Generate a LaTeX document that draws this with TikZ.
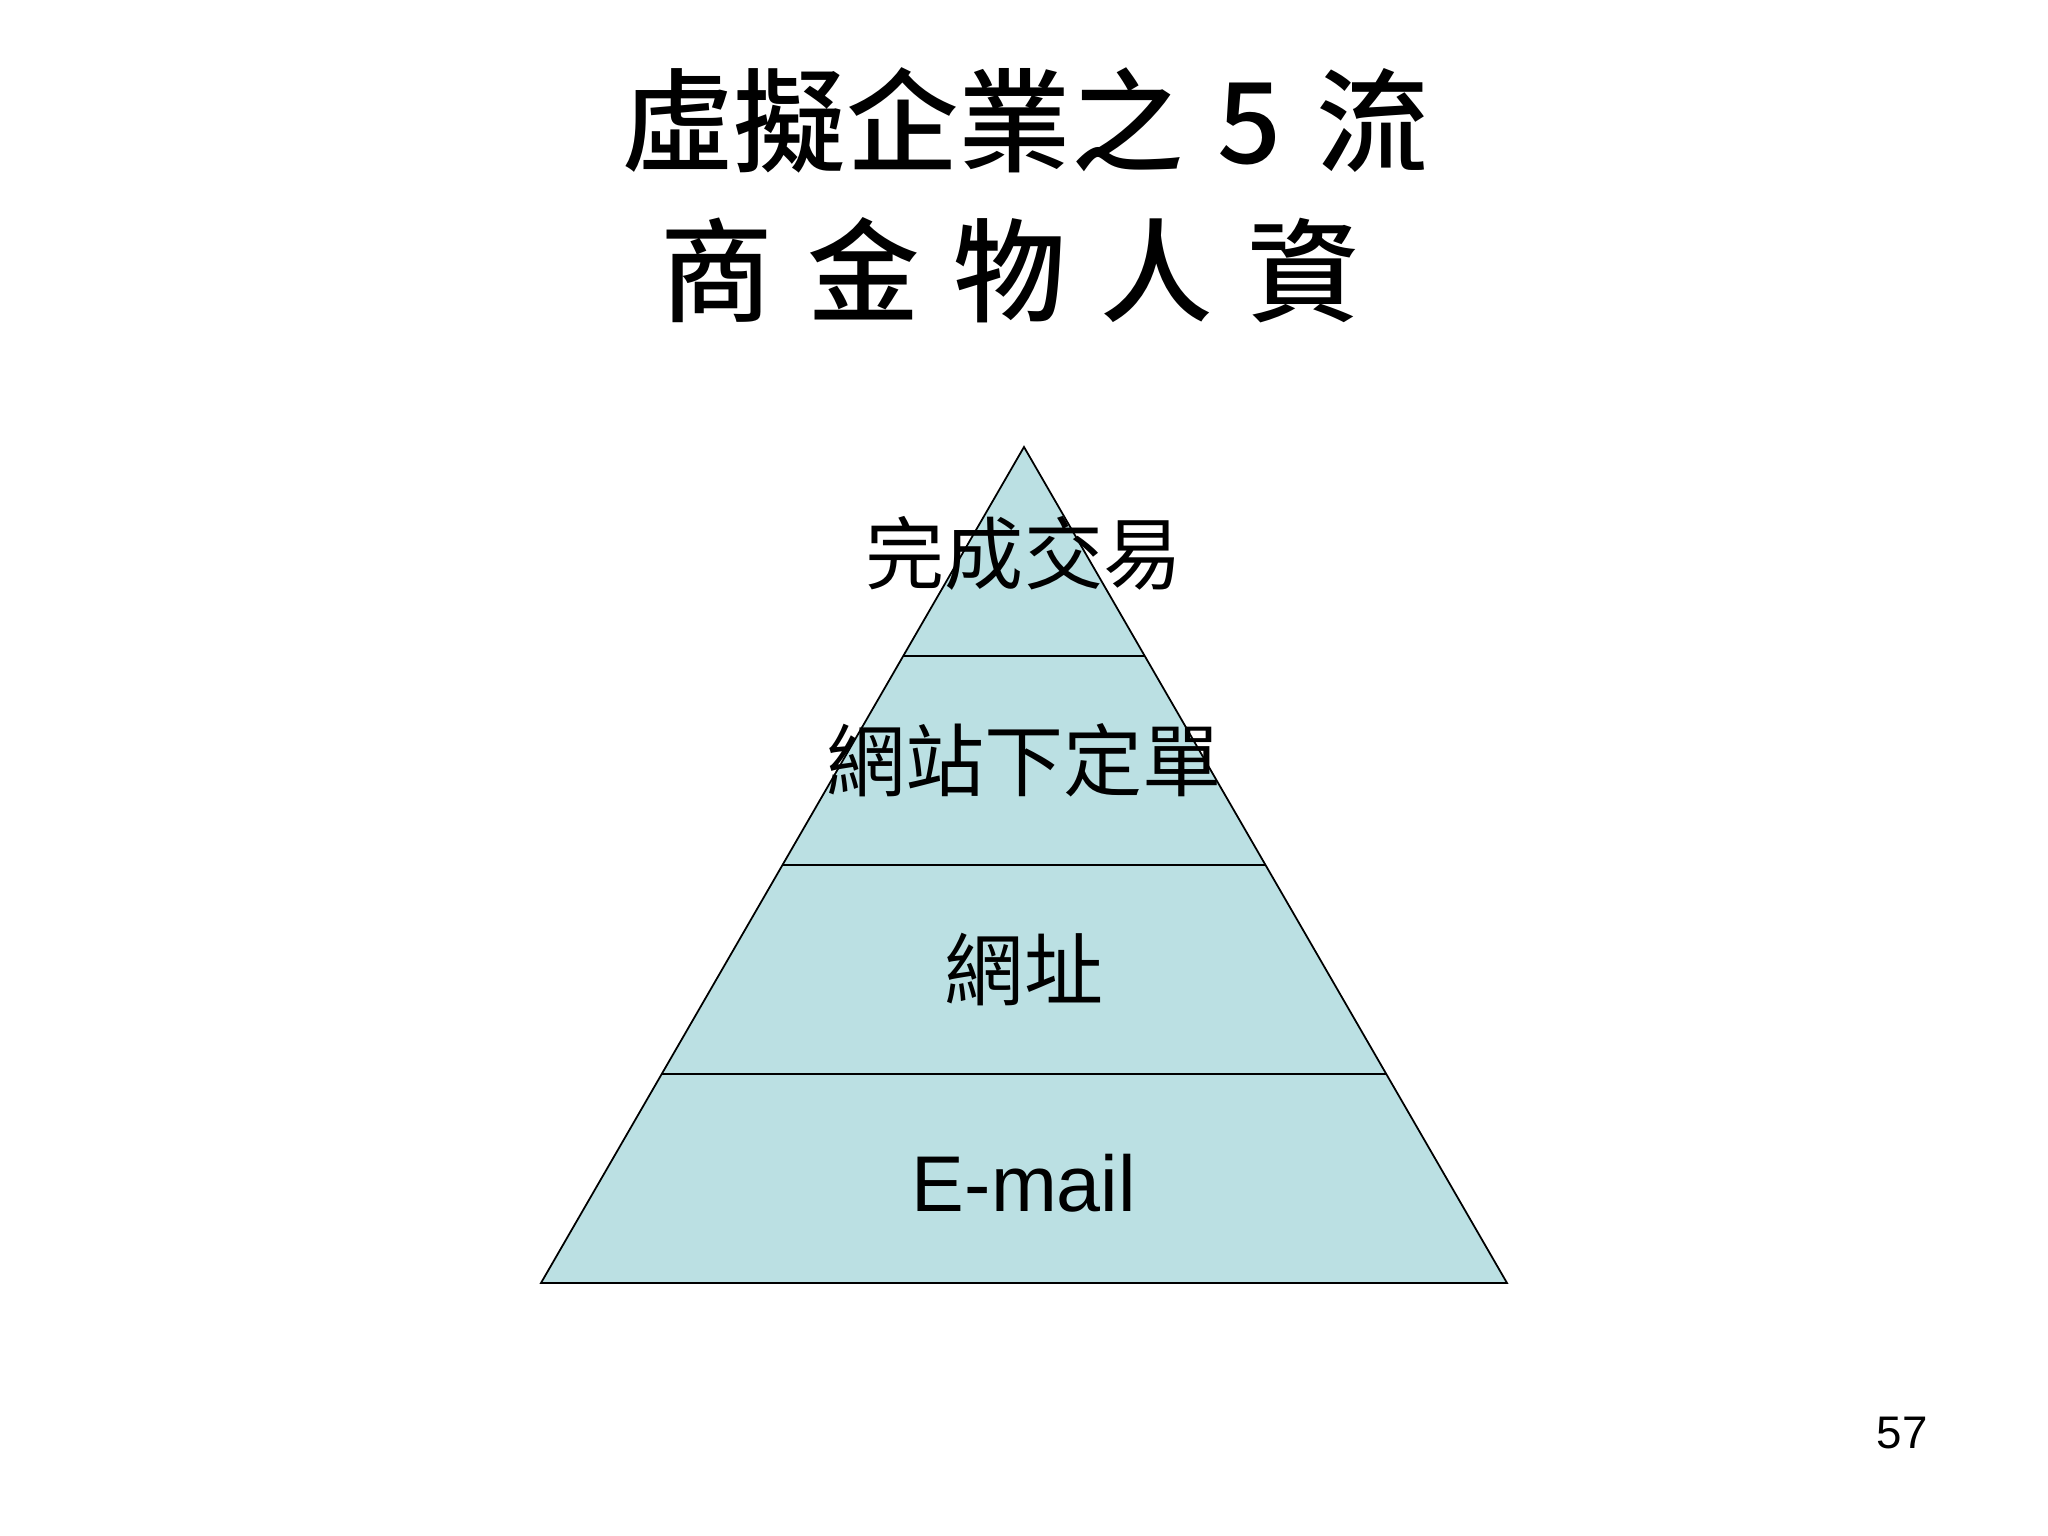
\documentclass[tikz,border=0pt]{standalone}
\usepackage{fontspec}
\setmainfont{Liberation Sans}
\newfontfamily\cjk{Noto Sans CJK TC}
\newfontfamily\cjkhead[WordSpace=1.35]{Noto Sans CJK TC Medium}
\usepackage{tikz}
\usetikzlibrary{positioning, calc}

\definecolor{layerfill}{RGB}{187,224,227}

\tikzset{
  title/.style={font=\cjkhead\fontsize{32}{38}\selectfont, inner sep=0pt},
  layertext/.style={font=\cjk\fontsize{22.5}{27}\selectfont, inner sep=0pt},
}

\begin{document}
\begin{tikzpicture}
			\useasboundingbox (0,0) rectangle (20.48,15.36);
			
			% Title
			\node[title] (head1) at (10.25, 14.16) {虛擬企業之 5 流};
			\node[title] (head2) at (10.10, 12.66) {商 金 物 人 資};
			
			% Pyramid
			\coordinate (apex) at (10.24, 10.89);
			\coordinate (bl) at (5.41, 2.53);
			\coordinate (br) at (15.07, 2.53);
			\draw[fill=layerfill, line width=0.5pt] (apex) -- (bl) -- (br) -- cycle;
			\foreach \f in {0.25, 0.5, 0.75}
				\draw[line width=0.5pt] ($(apex)!\f!(bl)$) -- ($(apex)!\f!(br)$);
			
			% Layers
			\node[layertext] (deal) at (10.24, 9.83) {完成交易};
			\node[layertext] (order) at (10.24, 7.76) {網站下定單};
			\node[layertext] (site) at (10.24, 5.66) {網址};
			\node[font=\fontsize{22.5}{27}\selectfont, inner sep=0pt] (mail) at (10.24, 3.53) {E-mail};
			
			% Page number
			\node[font=\fontsize{13}{15}\selectfont] (page) at (19.02, 1.03) {57};
		\end{tikzpicture}
\end{document}
